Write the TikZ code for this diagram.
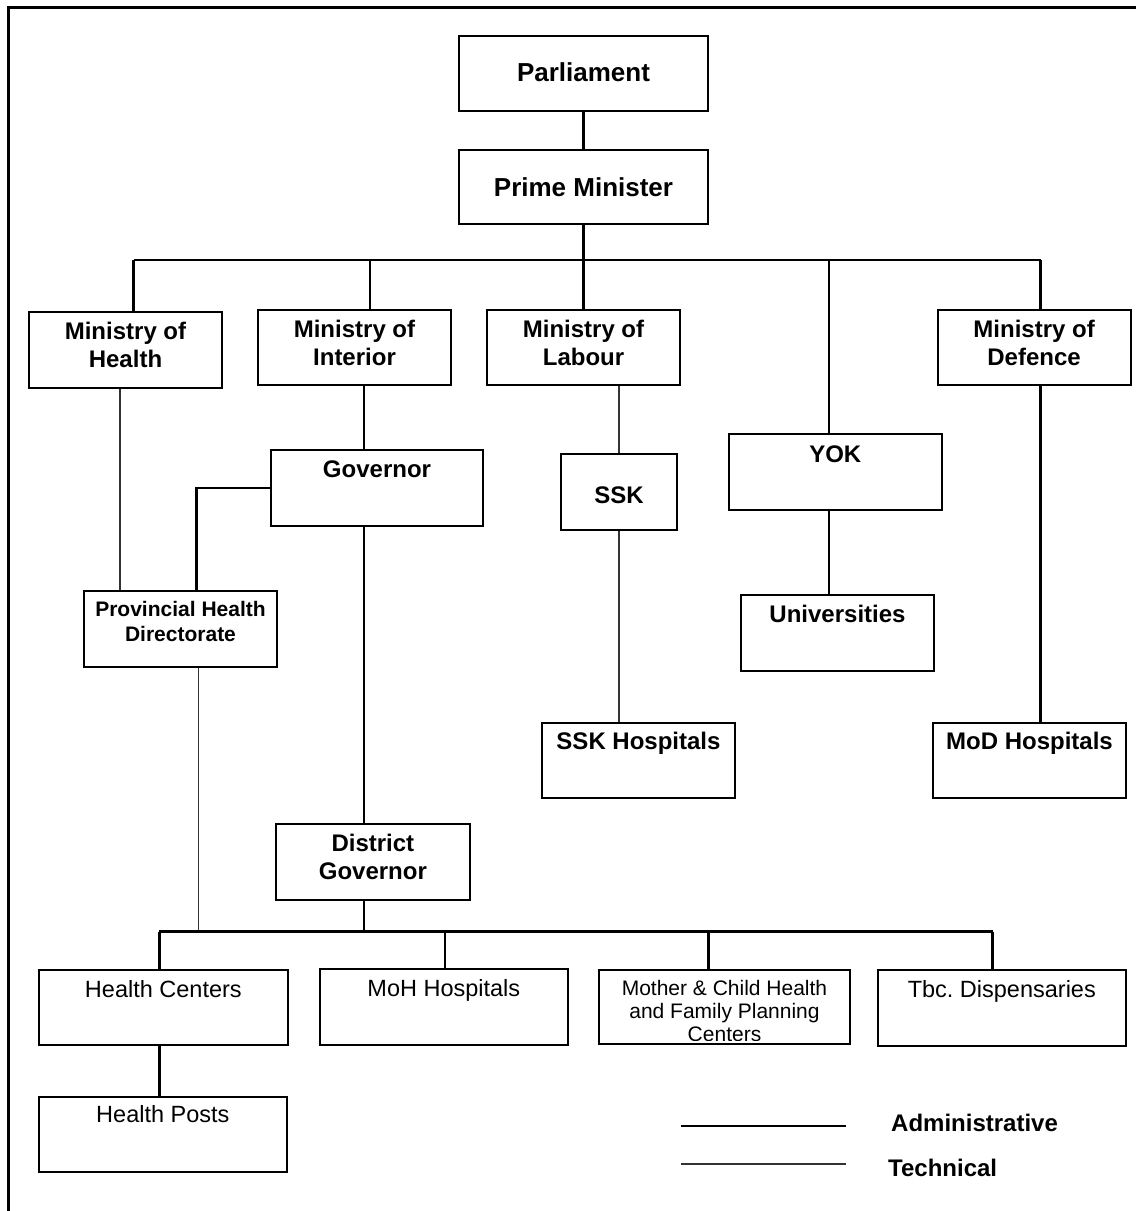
\documentclass[tikz,border=0pt]{standalone}
\usepackage{fontspec}
\setmainfont{Liberation Sans}
\usetikzlibrary{positioning}

\tikzset{
  box/.style={draw, line width=2pt, inner sep=0pt, anchor=north west,
    align=center, font=\bfseries\fontsize{24}{28.5}\selectfont},
  cell/.style n args={3}{minimum width=#1pt, text height=#2pt, text depth=#3pt},
  bigfont/.style={font=\bfseries\fontsize{26}{30}\selectfont},
  lightfont/.style={font=\fontsize{23.5}{28}\selectfont},
  admin/.style={line width=2.5pt},
  tech/.style={line width=1.2pt, black!80},
}

\begin{document}
\frenchspacing
\begin{tikzpicture}[x=1pt,y=-1pt]
  \useasboundingbox (0,0) rectangle (1136,1211);
  % frame
  \draw[line width=3pt] (8.5,1211) -- (8.5,7) -- (1136,7);

  \node[box, bigfont, cell={249}{46}{29}] (parl) at (458,34.5) {Parliament};
  \node[box, bigfont, cell={249}{46}{28}, below=37.5pt of parl] (pm) {Prime Minister};

  % two-line cells: text height runs to the last baseline
  \node[box, cell={193}{55.5}{20.5}] (moh) at (28,311)    {Ministry of\\Health};
  \node[box, cell={193}{55.5}{19.5}] (moi) at (257,309)   {Ministry of\\Interior};
  \node[box, cell={193}{55.5}{19.5}] (mol) at (486,309)   {Ministry of\\Labour};
  \node[box, cell={193}{55.5}{19.5}] (mod) at (936.6,309) {Ministry of\\Defence};

  \node[box, cell={212.6}{28}{48}]   (yok)  at (728,433)   {YOK};
  \node[box, cell={212}{27}{49}]     (gov)  at (270,449)   {Governor};
  \node[box, cell={116}{50}{26.3}]   (ssk)  at (560,452.7) {SSK};
  \node[box, cell={193}{50}{26}, font=\bfseries\fontsize{21}{25}\selectfont]
                                     (phd)  at (83,590)    {Provincial Health\\Directorate};
  \node[box, cell={193}{27.7}{48.3}] (uni)  at (740,594)   {Universities};
  \node[box, cell={193}{26.3}{48.7}] (sskh) at (541,722)   {SSK Hospitals};
  \node[box, cell={193}{26.3}{48.7}] (modh) at (932,722)   {MoD Hospitals};
  \node[box, cell={193.7}{55.5}{20.5}] (dg)  at (275,823)   {District\\Governor};

  \node[box, lightfont, cell={249.3}{27}{48}]   (hc)   at (37.7,969) {Health Centers};
  \node[box, lightfont, cell={247.7}{27}{49}]   (mohh) at (319,968)  {MoH Hospitals};
  \node[box, lightfont, cell={251}{24.7}{49}]   (mch)  at (598,969)  {};
  \node[box, lightfont, cell={247.6}{27}{49}]   (tbc)  at (877,969)  {Tbc. Dispensaries};
  \node[box, lightfont, cell={248.3}{25.7}{49.3}] (hp) at (37.7,1096) {Health Posts};
  % last line cut off by the box
  \begin{scope}
    \clip (599,970) rectangle (848,1040.5);
    \node[box, draw=none, cell={251}{71.6}{2.1}, font=\fontsize{21}{23.3}\selectfont]
      (mchtxt) at (598,969) {Mother \& Child Health\\and Family Planning\\Centers};
  \end{scope}

  \coordinate (b1) at (133.6,260);
  \coordinate (b2) at (370,260);
  \coordinate (b4) at (829,260);
  \coordinate (b5) at (1040.5,260);
  \coordinate (sp) at (364,0);
  \coordinate (c1) at (159.4,931.7);
  \coordinate (c2) at (445,931.7);
  \coordinate (c3) at (708.7,931.7);
  \coordinate (c4) at (992.7,931.7);

  \draw[admin] (parl) -- (pm);
  \draw[admin] (pm) -- (mol);
  \draw[admin] (b1) -- (b5);
  \draw[admin] (b1) -- (b1 |- moh.north);
  \draw[admin] (b2) -- (b2 |- moi.north);
  \draw[admin] (b4) -- (b4 |- yok.north);
  \draw[admin] (b5) -- (b5 |- mod.north);
  \draw[admin] (b4 |- yok.south) -- (b4 |- uni.north);
  \draw[admin] (b5 |- mod.south) -- (b5 |- modh.north);
  \draw[tech] (ssk.north |- mol.south) -- (ssk);
  \draw[tech] (ssk) -- (ssk.south |- sskh.north);

  \draw[admin] (sp |- moi.south) -- (sp |- gov.north);
  \draw[admin] (sp |- gov.south) -- (sp |- dg.north);
  \draw[admin] (sp |- dg.south) -- (sp |- c1);
  \draw[admin] (gov.west) -| ([xshift=16pt]phd.north);
  \draw[tech] ([xshift=-5.5pt]moh.south) -- ([xshift=-5.5pt]moh.south |- phd.north);
  \draw[tech] ([xshift=18pt]phd.south) -- ([xshift=18pt]phd.south |- c1);

  \draw[admin] (c1) -- (c4);
  \draw[admin] (c1) -- (c1 |- hc.north);
  \draw[admin] (c2) -- (c2 |- mohh.north);
  \draw[admin] (c3) -- (c3 |- mch.north);
  \draw[admin] (c4) -- (c4 |- tbc.north);
  \draw[admin] (c1 |- hc.south) -- (c1 |- hp.north);

  % legend
  \draw[admin] (681,1126) -- (846,1126);
  \draw[tech] (681,1164) -- (846,1164);
  \node[anchor=base west, inner sep=0pt, font=\bfseries\fontsize{24}{28}\selectfont]
    (ladm) at (891,1131) {Administrative};
  \node[anchor=base west, inner sep=0pt, font=\bfseries\fontsize{24}{28}\selectfont]
    (ltech) at (888,1176) {Technical};
\end{tikzpicture}
\end{document}
